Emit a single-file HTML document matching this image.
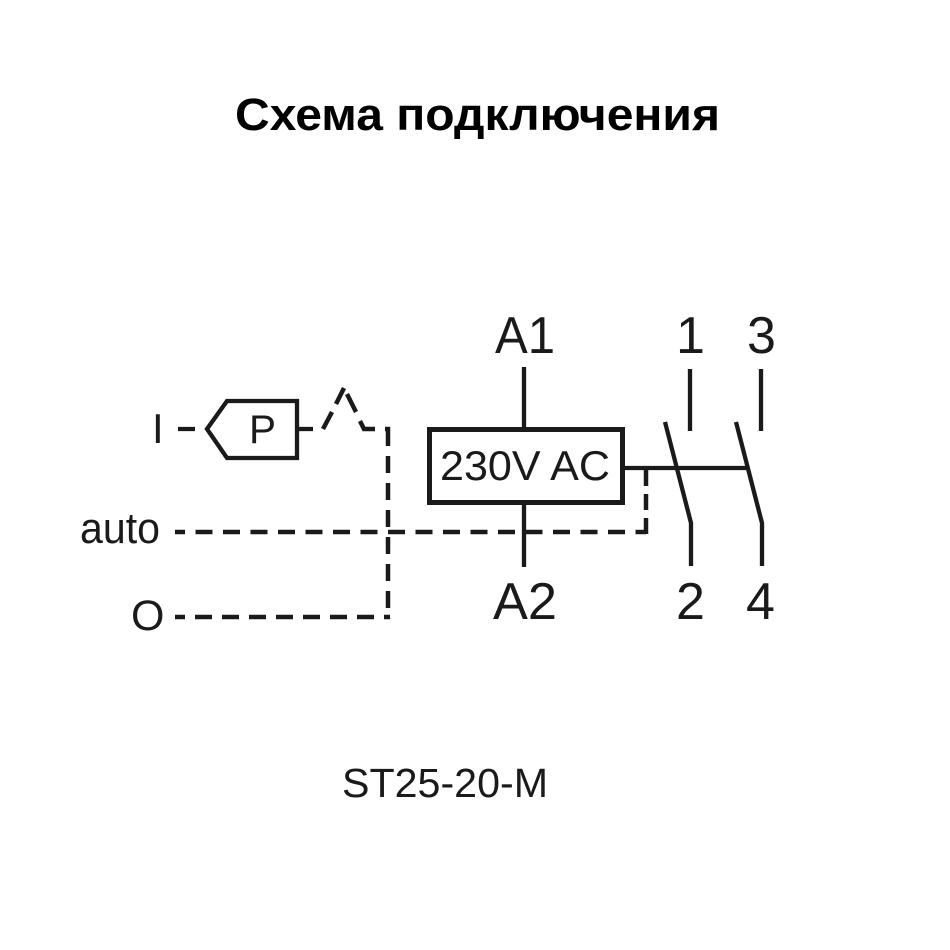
<!DOCTYPE html>
<html><head><meta charset="utf-8"><style>
html,body{margin:0;padding:0;background:#fff;}
svg{display:block;}
text{font-family:"Liberation Sans",Arial,sans-serif;fill:#1a1a1a;}
</style></head><body>
<svg width="950" height="950" viewBox="0 0 950 950" xmlns="http://www.w3.org/2000/svg">
<rect width="950" height="950" fill="#fff"/>
<text x="235" y="130" font-size="45" font-weight="bold" textLength="485" lengthAdjust="spacingAndGlyphs" style="fill:#000">Схема подключения</text>

<g stroke="#1a1a1a" stroke-width="4.3" fill="none">
  <!-- coil box -->
  <rect x="429.5" y="429.5" width="193" height="73" stroke-width="5"/>
  <line x1="524" y1="367" x2="524" y2="428"/>
  <line x1="524" y1="504" x2="524" y2="567"/>
  <line x1="624" y1="468" x2="748" y2="468"/>
  <!-- contacts -->
  <line x1="690" y1="369" x2="690" y2="431"/>
  <polyline points="665,422 691,523 691,566"/>
  <line x1="761" y1="369" x2="761" y2="431"/>
  <polyline points="736,422 762,523 762,566"/>
  <!-- left I / P -->
  <line x1="178" y1="429" x2="195" y2="429"/>
  <polygon points="207,429 227,401 297,401 297,458 227,458"/>
  <line x1="297" y1="429" x2="313" y2="429"/>
</g>

<g stroke="#1a1a1a" stroke-width="4.5" fill="none">
  <line x1="323" y1="429" x2="332" y2="412"/>
  <line x1="336" y1="404" x2="344" y2="388"/>
  <line x1="347" y1="394" x2="356" y2="412"/>
  <polyline points="360,421 364,429 375,429"/>
  <polyline points="385,429 388,429 388,446"/>
  <line x1="388" y1="456" x2="388" y2="619" stroke-dasharray="17 10"/>
  <line x1="175" y1="617" x2="390" y2="617" stroke-dasharray="17 10" stroke-dashoffset="7"/>
  <line x1="175" y1="532" x2="646" y2="532" stroke-dasharray="17 10.5" stroke-dashoffset="7"/>
  <line x1="646" y1="470" x2="646" y2="534" stroke-dasharray="16 8"/>
</g>

<text x="440" y="480" font-size="42" textLength="170" lengthAdjust="spacingAndGlyphs">230V AC</text>
<text x="495" y="353" font-size="52" textLength="60" lengthAdjust="spacingAndGlyphs">A1</text>
<text x="493" y="619" font-size="52" textLength="64" lengthAdjust="spacingAndGlyphs">A2</text>
<text x="676" y="353" font-size="52">1</text>
<text x="747" y="353" font-size="52">3</text>
<text x="676" y="619" font-size="52">2</text>
<text x="746" y="619" font-size="52">4</text>
<text x="249" y="443" font-size="40" textLength="27" lengthAdjust="spacingAndGlyphs">P</text>
<text x="152" y="443" font-size="42">I</text>
<text x="80" y="543" font-size="44" textLength="80" lengthAdjust="spacingAndGlyphs">auto</text>
<text x="131" y="630" font-size="43">O</text>
<text x="342" y="797" font-size="41" textLength="206" lengthAdjust="spacingAndGlyphs">ST25-20-M</text>
</svg>
</body></html>
